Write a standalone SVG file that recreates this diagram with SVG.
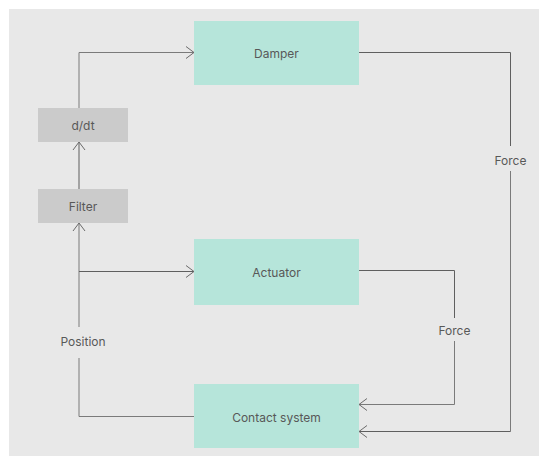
<svg xmlns="http://www.w3.org/2000/svg" width="539" height="456" viewBox="0 0 539 456">
  <style>
    .block rect { fill: #b6e5da; }
    .op rect { fill: #cbcbcb; }
    text { font-family: Inter, "Liberation Sans", sans-serif; font-size: 12px; fill: #585858; text-anchor: middle; dominant-baseline: central; }
    .wire { fill: none; stroke: #7a7a7a; stroke-width: 1; }
    .dark { stroke: #5f5f5f; }
  </style>
  <defs>
    <marker id="chev" viewBox="0 0 10 14" refX="9" refY="7" markerWidth="10" markerHeight="14" markerUnits="userSpaceOnUse" orient="auto">
      <path d="M1,1 L9,7 L1,13" fill="none" stroke="#6a6a6a" stroke-width="1"/>
    </marker>
  </defs>

  <rect x="0" y="0" width="539" height="456" fill="#ffffff"/>
  <rect x="9" y="9" width="530" height="447" fill="#e8e8e8"/>

  <g id="connectors">
    <!-- d/dt to Damper -->
    <path class="wire" d="M79,108 V52.5 H194" marker-end="url(#chev)"/>
    <!-- Filter to d/dt -->
    <path class="wire dark" d="M79,189 V142" marker-end="url(#chev)"/>
    <!-- Position feedback from Contact system to Filter -->
    <path class="wire" d="M194,416.5 H79 V358"/>
    <path class="wire" d="M79,327 V223" marker-end="url(#chev)"/>
    <!-- branch to Actuator -->
    <path class="wire dark" d="M79,271.5 H194" marker-end="url(#chev)"/>
    <!-- Damper force -->
    <path class="wire dark" d="M359,52.5 H510.5 V146"/>
    <path class="wire" d="M510.5,171 V431.5"/>
    <path class="wire dark" d="M510.5,431.5 H359" marker-end="url(#chev)"/>
    <!-- Actuator force -->
    <path class="wire dark" d="M359,270.5 H454.5 V318"/>
    <path class="wire" d="M454.5,341 V404.5 H359" marker-end="url(#chev)"/>
  </g>

  <g id="damper" class="block">
    <rect x="194" y="21" width="165" height="64"/>
    <text x="276.5" y="53">Damper</text>
  </g>
  <g id="ddt" class="op">
    <rect x="38" y="108" width="90" height="34"/>
    <text x="83" y="125">d/dt</text>
  </g>
  <g id="filter" class="op">
    <rect x="38" y="189" width="90" height="34"/>
    <text x="83" y="206">Filter</text>
  </g>
  <g id="actuator" class="block">
    <rect x="194" y="239" width="165" height="66"/>
    <text x="276.5" y="272">Actuator</text>
  </g>
  <g id="contact-system" class="block">
    <rect x="194" y="384" width="165" height="64"/>
    <text x="276.5" y="417">Contact system</text>
  </g>

  <g id="labels">
    <text x="510.5" y="160">Force</text>
    <text x="454.5" y="330">Force</text>
    <text x="83" y="341">Position</text>
  </g>
</svg>
